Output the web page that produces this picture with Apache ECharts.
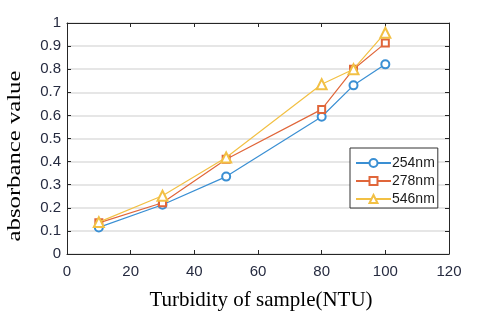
<!DOCTYPE html>
<html><head><meta charset="utf-8">
<script src="https://cdn.jsdelivr.net/npm/echarts@6/dist/echarts.min.js"></script>
<style>html,body{margin:0;padding:0;background:#fff}#c{width:477px;height:317px}</style>
</head><body><div id="c"></div>
<script>
const xValues = [10, 30, 50, 80, 90, 100];
const s254 = [0.115, 0.213, 0.335, 0.594, 0.73, 0.821];
const s278 = [0.135, 0.222, 0.41, 0.626, 0.80, 0.913];
const s546 = [0.138, 0.252, 0.418, 0.735, 0.80, 0.958];
const seriesNames = ['254nm', '278nm', '546nm'];
const xTitle = 'Turbidity of sample(NTU)';
const yTitle = 'absorbance value';

const colors = ['#3a8fd3', '#e0663a', '#f2c044'];
const symbols = ['emptyCircle', 'emptyRect', 'emptyTriangle'];
const symbolSizes = [8, 7, 10];
const pair = a => a.map((v, i) => [xValues[i], v]);
const chart = echarts.init(document.getElementById('c'));
const axisCol = '#262626';
const tickFont = {fontFamily: 'Liberation Sans', fontSize: 15, color: '#262b40'};
chart.setOption({
  animation: false,
  grid: {left: 67, top: 23, width: 382, height: 231, outerBoundsMode: 'none', containLabel: false},
  legend: {
    orient: 'vertical', left: 350, top: 148, itemWidth: 35, itemHeight: 10, itemGap: 0,
    padding: [6, 3, 0, 5],
    borderColor: '#333', borderWidth: 1, backgroundColor: '#fff',
    textStyle: {fontFamily: 'Liberation Sans', fontSize: 14, lineHeight: 18, color: '#1a1a1a', padding: [0,0,0,-4]},
    data: seriesNames
  },
  xAxis: [
    {type: 'value', min: 0, max: 120, interval: 20, position: 'bottom',
     axisLine: {onZero: false, lineStyle: {color: axisCol}}, axisTick: {inside: true, length: 4, lineStyle: {color: axisCol}},
     axisLabel: Object.assign({margin: 10}, tickFont), splitLine: {show: false}},
    {type: 'value', min: 0, max: 120, interval: 20, position: 'top',
     axisLine: {onZero: false, lineStyle: {color: axisCol}}, axisTick: {inside: true, length: 4, lineStyle: {color: axisCol}},
     axisLabel: {show: false}, splitLine: {show: false}}
  ],
  yAxis: [
    {type: 'value', min: 0, max: 1, interval: 0.1, position: 'left',
     axisLine: {show: true, onZero: false, lineStyle: {color: axisCol}}, axisTick: {show: true, inside: true, length: 4, lineStyle: {color: axisCol}},
     axisLabel: Object.assign({margin: 6, formatter: v => String(+v.toFixed(1))}, tickFont),
     splitLine: {show: true, lineStyle: {color: '#e6e6e6', width: 2}}},
    {type: 'value', min: 0, max: 1, interval: 0.1, position: 'right',
     axisLine: {show: true, onZero: false, lineStyle: {color: axisCol}}, axisTick: {show: true, inside: true, length: 4, lineStyle: {color: axisCol}},
     axisLabel: {show: false}, splitLine: {show: false}}
  ],
  graphic: [
    {type: 'text', x: 261, y: 300, style: {text: xTitle, font: '21px "Liberation Serif"', fill: '#000', textAlign: 'center', textVerticalAlign: 'middle'}},
    {type: 'text', x: 15, y: 156, rotation: Math.PI / 2, scaleX: 1.3,
     style: {text: yTitle, font: '19px "Liberation Serif"', fill: '#000', textAlign: 'center', textVerticalAlign: 'middle'}}
  ],
  series: [s254, s278, s546].map((d, i) => ({
    name: seriesNames[i], type: 'line', data: pair(d),
    symbol: symbols[i], symbolSize: symbolSizes[i],
    lineStyle: {color: colors[i], width: 1.2},
    itemStyle: {color: colors[i], borderWidth: 1},
    z: 3 + i
  }))
});
</script></body></html>
